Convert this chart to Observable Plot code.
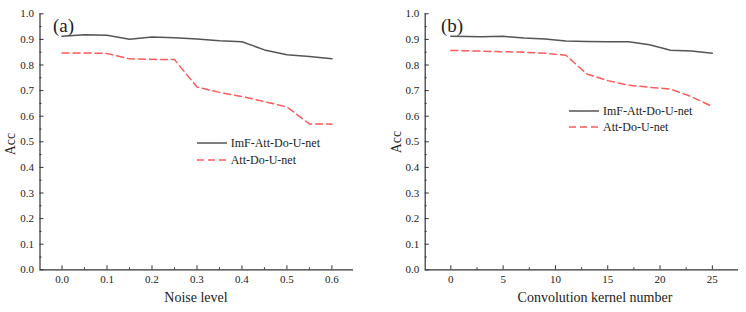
<!DOCTYPE html>
<html>
<head>
<meta charset="utf-8">
<script src="https://cdn.jsdelivr.net/npm/d3@7"></script>
<script src="https://cdn.jsdelivr.net/npm/@observablehq/plot@0.6"></script>
<style>
  html, body { margin: 0; padding: 0; background: #fff; }
  #wrap { position: relative; width: 746px; height: 312px; overflow: hidden; font-family: "Liberation Serif", "Times New Roman", serif; color: #222; }
  .panel { position: absolute; top: 0; }
  .lbl { position: absolute; white-space: nowrap; line-height: 1; }
  .tag { font-size: 19px; }
  .xl { font-size: 14px; transform: translateX(-50%); }
  .yl { font-size: 14px; transform: translate(-50%, -50%) rotate(-90deg); }
  .leg { position: absolute; font-size: 12px; line-height: 1; white-space: nowrap; }
  .leg div { display: flex; align-items: center; height: 16.5px; }
  .leg svg { margin-right: 4px; flex-shrink: 0; }
  svg text { font-family: "Liberation Serif", "Times New Roman", serif; }
</style>
</head>
<body>
<div id="wrap"></div>
<script>
// ---- data ----
const seriesNames = ["ImF-Att-Do-U-net", "Att-Do-U-net"];
const noiseLevels = [0, 0.05, 0.1, 0.15, 0.2, 0.25, 0.3, 0.35, 0.4, 0.45, 0.5, 0.55, 0.6];
const imfNoise = [0.912, 0.918, 0.916, 0.901, 0.909, 0.906, 0.902, 0.895, 0.891, 0.859, 0.840, 0.833, 0.824];
const attNoise = [0.847, 0.847, 0.845, 0.824, 0.822, 0.821, 0.714, 0.693, 0.677, 0.657, 0.636, 0.570, 0.569];

const kernelNumbers = [0, 3, 5, 7, 9, 11, 13, 15, 17, 19, 21, 23, 25];
const imfKernel = [0.912, 0.910, 0.912, 0.905, 0.902, 0.894, 0.892, 0.891, 0.891, 0.879, 0.858, 0.855, 0.846];
const attKernel = [0.857, 0.854, 0.852, 0.850, 0.846, 0.838, 0.765, 0.739, 0.721, 0.713, 0.706, 0.676, 0.638];

const yTicks = [0, 0.1, 0.2, 0.3, 0.4, 0.5, 0.6, 0.7, 0.8, 0.9, 1.0];
const yMinor = [0.05, 0.15, 0.25, 0.35, 0.45, 0.55, 0.65, 0.75, 0.85, 0.95];
const noiseTicks = [0, 0.1, 0.2, 0.3, 0.4, 0.5, 0.6];
const noiseMinor = [0.05, 0.15, 0.25, 0.35, 0.45, 0.55];
const kernelTicks = [0, 5, 10, 15, 20, 25];
const kernelMinor = [2.5, 7.5, 12.5, 17.5, 22.5];

const colors = ["#555555", "#ff5a5a"];
const serif = "'Liberation Serif', 'Times New Roman', serif";

function panel({xs, imf, att, xDomain, xTicks, xMinor, xFormat, margins}) {
  const dImf = xs.map((x, i) => ({x, y: imf[i]}));
  const dAtt = xs.map((x, i) => ({x, y: att[i]}));
  return Plot.plot({
    width: 373,
    height: 312,
    marginLeft: margins[0], marginRight: margins[1], marginTop: margins[2], marginBottom: margins[3],
    style: {fontFamily: serif, fontSize: "11px", color: "#222", background: "transparent", overflow: "visible"},
    x: {domain: xDomain, label: null},
    y: {domain: [0, 1], label: null},
    marks: [
      Plot.axisY({ticks: yMinor, tickSize: -2, tickFormat: () => "", label: null, stroke: "#333"}),
      Plot.axisY({ticks: yTicks, tickSize: -4, tickPadding: 10, tickFormat: d => d.toFixed(1), label: null, stroke: "#333"}),
      Plot.axisX({ticks: xMinor, tickSize: -2, tickFormat: () => "", label: null, stroke: "#333"}),
      Plot.axisX({ticks: xTicks, tickSize: -4, tickPadding: 9, tickFormat: xFormat, label: null, stroke: "#333"}),
      Plot.ruleX([xDomain[0]], {stroke: "#333", strokeWidth: 1.2}),
      Plot.ruleY([0], {stroke: "#333", strokeWidth: 1.2}),
      Plot.line(dImf, {x: "x", y: "y", stroke: colors[0], strokeWidth: 1.5}),
      Plot.line(dAtt, {x: "x", y: "y", stroke: colors[1], strokeWidth: 1.5, strokeDasharray: "7,4"})
    ]
  });
}

const wrap = document.getElementById("wrap");

const left = panel({
  xs: noiseLevels, imf: imfNoise, att: attNoise,
  xDomain: [-0.049, 0.648], xTicks: noiseTicks, xMinor: noiseMinor,
  xFormat: d => d.toFixed(1), margins: [39.5, 20, 13.3, 42.7]
});
const right = panel({
  xs: kernelNumbers, imf: imfKernel, att: attKernel,
  xDomain: [-2.45, 27.5], xTicks: kernelTicks, xMinor: kernelMinor,
  xFormat: d => String(d), margins: [51.7, 8, 13.3, 42.7]
});

function place(node, x) {
  const d = document.createElement("div");
  d.className = "panel";
  d.style.left = x + "px";
  d.appendChild(node);
  wrap.appendChild(d);
}
place(left, 0);
place(right, 373);

function label(text, cls, x, y) {
  const el = document.createElement("div");
  el.className = "lbl " + cls;
  el.textContent = text;
  el.style.left = x + "px";
  el.style.top = y + "px";
  wrap.appendChild(el);
}
label("(a)", "tag", 53, 16);
label("(b)", "tag", 441, 16);
label("Noise level", "xl", 196, 291);
label("Convolution kernel number", "xl", 595, 291);
label("Acc", "yl", 11, 144);
label("Acc", "yl", 397, 142);

function legend(x, y) {
  const box = document.createElement("div");
  box.className = "leg";
  box.style.left = x + "px";
  box.style.top = y + "px";
  seriesNames.forEach((name, i) => {
    const row = document.createElement("div");
    row.innerHTML = `<svg width="30" height="4"><line x1="0" y1="2" x2="30" y2="2" stroke="${colors[i]}" stroke-width="1.5" ${i ? 'stroke-dasharray="7,4"' : ''}/></svg><span>${name}</span>`;
    box.appendChild(row);
  });
  wrap.appendChild(box);
}
legend(196.7, 135);
legend(569, 102.5);
</script>
</body>
</html>
